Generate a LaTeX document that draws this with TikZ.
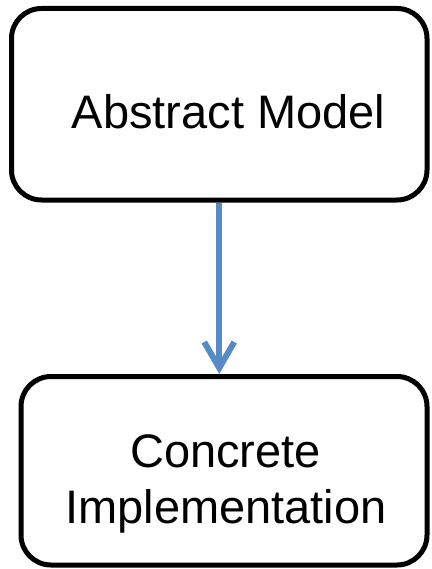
\documentclass[tikz,border=0pt]{standalone}
\usepackage{fontspec}
\setmainfont{Liberation Sans}
\usetikzlibrary{arrows.meta}
\definecolor{flowblue}{RGB}{86,139,199}
\begin{document}
\begin{tikzpicture}[x=1pt,y=-1pt,
  box/.style={draw=black,line width=5pt,rounded corners=30pt,rectangle,inner sep=0pt},
  label/.style={font=\fontsize{47}{56}\selectfont,inner sep=0pt,anchor=base},
  flow/.style={draw=flowblue,line width=6pt,-{Straight Barb[length=26pt,width=30pt]}}]
  \useasboundingbox (0,0) rectangle (431,569);
  % boxes
  \node[box,minimum width=415.5pt,minimum height=191.5pt] (abstract) at (219.25,104.25) {};
  \node[box,minimum width=406pt,minimum height=188.5pt] (concrete) at (224,470.75) {};
  % texts
  \node[label] (abstractText) at (228.5,129) {Abstract Model};
  \node[label] (concreteText1) at (225.5,467) {Concrete};
  \node[label] (concreteText2) at (226,523) {Implementation};
  % connector
  \draw[flow] (abstract.south) -- (abstract.south |- concrete.north);
\end{tikzpicture}
\end{document}
